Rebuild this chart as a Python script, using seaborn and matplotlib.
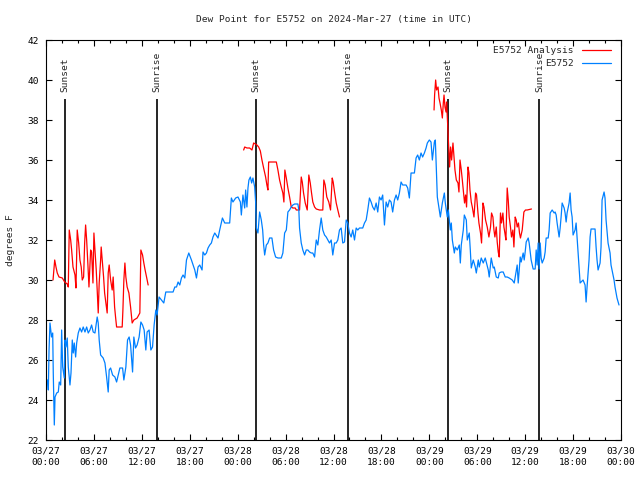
import numpy as np
import pandas as pd
import matplotlib
matplotlib.use("Agg")
import matplotlib.pyplot as plt
import matplotlib.dates as mdates
from matplotlib.lines import Line2D
import seaborn as sns

# hours after 2024-03-27 00:00 UTC, dew point in F
obs_hours = [0.19, 0.29, 0.38, 0.5, 0.69, 0.84, 0.91, 1.04, 1.13, 1.34, 1.54, 1.66, 1.84, 1.96, 2.09, 2.29, 2.38, 2.5, 2.66, 2.79,
             3.0, 3.13, 3.29, 3.41, 3.54, 3.71, 3.84, 4.04, 4.25, 4.46, 4.66, 4.88, 5.09, 5.29, 5.5, 5.71, 5.91, 6.13, 6.41, 6.54,
             6.66, 6.84, 7.16, 7.38, 7.59, 7.79, 7.91, 8.09, 8.34, 8.63, 8.84, 9.04, 9.25, 9.59, 9.75, 10.0, 10.21, 10.41, 10.59, 10.84,
             11.0, 11.21, 11.41, 11.66, 11.88, 12.09, 12.29, 12.5, 12.66, 12.91, 13.13, 13.34, 13.54, 13.75, 13.91, 14.16, 14.46, 14.75, 15.0, 15.91,
             16.13, 16.34, 16.54, 16.75, 16.96, 17.16, 17.38, 17.59, 17.88, 18.21, 18.63, 18.84, 19.04, 19.25, 19.54, 19.66, 19.88, 20.09, 20.29, 20.5,
             20.71, 20.91, 21.13, 21.54, 21.75, 22.09, 22.38, 23.0, 23.21, 23.41, 23.75, 24.04, 24.34, 24.46, 24.66, 24.88, 25.0, 25.16, 25.29, 25.41,
             25.59, 25.75, 25.91, 26.13, 26.25, 26.34, 26.54, 26.75, 26.96, 27.13, 27.25, 27.38, 27.59, 27.79, 28.0, 28.29, 28.5, 28.75, 29.04, 29.46,
             29.66, 29.88, 30.09, 30.29, 30.5, 30.71, 30.91, 31.13, 31.54, 31.66, 31.75, 31.96, 32.16, 32.38, 32.59, 32.79, 33.0, 33.21, 33.41, 33.63,
             33.84, 34.04, 34.25, 34.46, 34.66, 34.88, 35.09, 35.29, 35.5, 35.71, 35.91, 36.13, 36.34, 36.54, 36.75, 36.96, 37.16, 37.38, 37.59, 37.79,
             38.0, 38.21, 38.41, 38.63, 38.84, 39.04, 39.25, 39.66, 39.88, 40.09, 40.29, 40.5, 40.71, 40.91, 41.13, 41.34, 41.54, 41.75, 41.96, 42.16,
             42.38, 42.59, 42.79, 43.0, 43.21, 43.41, 43.63, 43.84, 44.04, 44.25, 44.46, 44.66, 45.09, 45.29, 45.5, 45.71, 46.13, 46.34, 46.54, 46.75,
             46.96, 47.16, 47.38, 47.59, 47.75, 48.0, 48.21, 48.38, 48.63, 48.75, 48.88, 49.0, 49.25, 49.38, 49.5, 49.63, 49.88, 50.0, 50.25, 50.38,
             50.5, 50.63, 50.75, 50.88, 51.13, 51.25, 51.5, 51.75, 51.88, 52.0, 52.25, 52.38, 52.63, 52.75, 53.0, 53.13, 53.25, 53.5, 53.75, 53.88,
             54.13, 54.25, 54.5, 54.75, 55.0, 55.13, 55.38, 55.5, 55.75, 56.0, 56.13, 56.38, 56.63, 56.75, 57.0, 57.25, 57.5, 57.75, 58.0, 58.38,
             58.63, 58.75, 59.0, 59.13, 59.38, 59.5, 59.75, 59.88, 60.0, 60.13, 60.38, 60.5, 60.63, 60.75, 61.0, 61.25, 61.38, 61.5, 61.63, 61.75,
             61.88, 62.0, 62.13, 62.38, 62.5, 62.63, 62.88, 63.0, 63.13, 63.38, 63.63, 63.75, 63.88, 64.0, 64.25, 64.38, 64.5, 64.63, 64.88, 65.0,
             65.13, 65.25, 65.5, 65.63, 65.75, 65.88, 66.0, 66.25, 66.38, 66.63, 66.88, 67.0, 67.25, 67.5, 67.63, 67.75, 68.0, 68.13, 68.25, 68.75,
             68.88, 69.0, 69.13, 69.38, 69.5, 69.63, 69.88, 70.0, 70.13, 70.38, 70.63, 70.75, 70.88, 71.13, 71.25, 71.38, 71.5, 71.75]
obs_dewpt = [25.0, 24.5, 26.5, 27.85, 27.15, 27.35, 25.35, 22.75, 24.15, 24.35, 24.4, 24.9, 24.75, 27.5, 25.65, 25.1, 27.0, 26.65, 27.1, 25.65,
             24.75, 25.35, 27.0, 26.35, 26.85, 26.15, 26.85, 27.35, 27.6, 27.4, 27.65, 27.4, 27.65, 27.35, 27.5, 27.75, 27.4, 27.35, 28.15, 27.85,
             27.0, 26.25, 26.1, 25.85, 25.15, 24.4, 25.5, 25.6, 25.25, 25.15, 24.9, 25.25, 25.6, 25.6, 25.0, 25.65, 27.0, 27.15, 26.75, 25.4,
             27.15, 26.6, 26.75, 27.15, 27.9, 27.75, 27.5, 26.5, 27.4, 27.5, 26.5, 26.65, 27.75, 28.5, 28.25, 29.15, 29.0, 28.85, 29.4, 29.4,
             29.65, 29.65, 29.9, 29.75, 30.1, 30.25, 30.1, 31.0, 31.35, 31.0, 30.5, 30.1, 30.65, 30.75, 30.5, 31.4, 31.25, 31.35, 31.6, 31.75,
             31.85, 32.15, 32.35, 32.1, 32.5, 33.1, 32.85, 32.85, 34.1, 33.9, 34.1, 34.15, 33.9, 33.25, 34.25, 33.6, 34.5, 33.65, 34.6, 35.0,
             35.15, 34.85, 35.1, 34.65, 33.9, 32.6, 32.35, 33.4, 33.0, 32.5, 31.75, 31.25, 31.75, 31.85, 32.1, 32.1, 31.5, 31.15, 31.1, 31.1,
             31.35, 32.35, 32.5, 33.4, 33.5, 33.65, 33.75, 33.8, 33.8, 33.5, 32.6, 31.85, 31.5, 31.25, 31.5, 31.5, 31.4, 31.35, 31.35, 31.15,
             32.0, 31.75, 32.5, 33.1, 32.5, 32.25, 32.15, 32.0, 31.85, 32.0, 31.25, 31.85, 31.85, 32.0, 32.5, 32.6, 31.85, 31.9, 33.0, 32.85,
             32.35, 32.15, 32.5, 32.0, 32.6, 32.5, 32.6, 32.6, 32.85, 33.0, 33.5, 34.1, 33.9, 33.65, 33.5, 33.85, 33.4, 34.15, 34.0, 34.25,
             32.75, 33.9, 33.65, 34.0, 33.9, 33.4, 34.0, 34.25, 34.0, 34.35, 34.9, 34.75, 34.75, 34.6, 34.1, 35.35, 35.35, 36.1, 36.25, 36.0,
             36.35, 36.15, 36.35, 36.6, 36.85, 37.0, 36.9, 36.0, 36.9, 37.0, 35.5, 34.15, 33.5, 33.15, 33.5, 33.85, 34.35, 33.85, 33.15, 33.5,
             33.0, 32.5, 32.85, 32.0, 31.35, 31.65, 31.5, 31.75, 30.85, 31.75, 32.5, 33.25, 33.0, 32.0, 32.35, 31.5, 30.6, 31.0, 30.65, 30.35,
             31.0, 30.65, 31.1, 30.85, 31.1, 30.9, 30.5, 30.15, 31.1, 30.6, 30.65, 30.15, 30.1, 30.35, 30.4, 30.4, 30.15, 30.15, 30.1, 30.0,
             29.85, 30.15, 30.75, 29.85, 31.15, 30.9, 31.35, 31.0, 31.4, 31.9, 32.1, 31.85, 31.4, 31.0, 30.55, 30.55, 31.5, 30.75, 31.85, 30.55,
             31.85, 31.1, 30.85, 31.1, 31.4, 32.1, 32.1, 32.5, 33.35, 33.5, 33.35, 33.4, 33.25, 32.85, 32.15, 32.6, 33.15, 33.85, 33.6, 33.35,
             32.9, 33.35, 33.85, 34.35, 33.5, 33.15, 32.25, 32.5, 32.85, 31.35, 29.85, 29.9, 30.0, 29.75, 28.9, 29.65, 31.0, 32.15, 32.55, 32.55,
             31.65, 31.0, 30.5, 30.85, 31.65, 34.0, 34.4, 34.1, 33.0, 31.85, 31.35, 30.75, 30.5, 30.0, 29.65, 29.35, 29.1, 28.75]

# analysis runs (three separate pieces)
ana_hours = [0.88, 1.09, 1.25, 1.41, 1.63, 2.04, 2.34, 2.66, 2.79, 2.91, 3.09, 3.21, 3.38, 3.63, 3.75, 3.91, 4.09, 4.25, 4.41, 4.54,
             4.71, 4.84, 4.96, 5.09, 5.25, 5.38, 5.59, 5.71, 5.88, 6.0, 6.13, 6.29, 6.41, 6.54, 6.66, 6.84, 6.91, 7.04, 7.21, 7.34,
             7.5, 7.66, 7.79, 7.91, 8.09, 8.29, 8.41, 8.59, 8.71, 8.84, 9.54, 9.63, 9.75, 9.88, 10.0, 10.16, 10.38, 10.59, 10.79, 11.0,
             11.41, 11.75, 11.88, 12.09, 12.25, 12.41, 12.59, 12.79,
             24.75, 24.88, 25.16, 25.5, 25.79, 26.0, 26.21, 26.41, 26.63, 26.84, 27.04, 27.25, 27.5, 27.66, 27.79, 27.88, 28.21, 28.84, 29.04, 29.25,
             29.46, 29.66, 29.79, 29.91, 30.09, 30.29, 30.5, 30.71, 30.91, 31.21, 31.34, 31.75, 31.96, 32.09, 32.25, 32.46, 32.71, 32.91, 33.09, 33.25,
             33.41, 33.63, 33.84, 34.25, 34.66, 34.79, 34.96, 35.16, 35.41, 35.63, 35.84, 35.96, 36.13, 36.34, 36.54, 36.75,
             48.59, 48.66, 48.79, 48.91, 49.09, 49.21, 49.34, 49.5, 49.63, 49.75, 49.84, 49.96, 50.09, 50.16, 50.34, 50.46, 50.54, 50.66, 50.79, 50.96,
             51.09, 51.21, 51.38, 51.59, 51.71, 51.84, 52.0, 52.13, 52.25, 52.41, 52.54, 52.66, 52.84, 52.96, 53.09, 53.25, 53.38, 53.59, 53.79, 53.91,
             54.09, 54.21, 54.41, 54.54, 54.71, 54.84, 55.04, 55.25, 55.46, 55.66, 55.79, 55.96, 56.09, 56.21, 56.38, 56.5, 56.63, 56.75, 56.91, 57.04,
             57.21, 57.34, 57.46, 57.59, 57.75, 57.88, 58.0, 58.16, 58.29, 58.46, 58.59, 58.75, 58.88, 59.0, 59.16, 59.29, 59.41, 59.63, 59.84, 60.04,
             60.25, 60.79]
ana_dewpt = [30.0, 31.0, 30.65, 30.35, 30.15, 30.1, 29.9, 29.8, 29.65, 32.5, 32.0, 31.5, 30.65, 30.25, 29.6, 32.5, 31.85, 31.0, 30.65, 30.0,
             30.15, 31.85, 32.75, 32.0, 30.75, 29.65, 31.5, 31.4, 29.85, 32.35, 31.5, 30.5, 29.5, 28.35, 29.85, 31.0, 31.65, 31.0, 30.15, 29.35,
             28.85, 28.35, 30.35, 30.75, 30.0, 29.5, 30.15, 28.65, 28.15, 27.65, 27.65, 28.5, 30.0, 30.85, 30.15, 29.65, 29.35, 28.65, 27.85, 28.0,
             28.1, 28.35, 31.5, 31.25, 30.85, 30.5, 30.15, 29.75,
             36.5, 36.65, 36.6, 36.6, 36.5, 36.85, 36.8, 36.75, 36.65, 36.45, 36.0, 35.6, 35.15, 34.75, 34.5, 35.9, 35.9, 35.9, 35.5, 35.0,
             34.65, 34.35, 33.9, 35.5, 35.1, 34.6, 34.15, 33.65, 33.6, 33.6, 33.5, 33.5, 35.15, 34.9, 34.35, 33.85, 33.5, 35.25, 34.85, 34.35,
             33.9, 33.65, 33.55, 33.5, 33.5, 35.0, 34.75, 34.15, 33.9, 33.5, 35.1, 34.9, 34.4, 33.85, 33.5, 33.15,
             38.5, 39.25, 40.0, 39.5, 39.65, 39.1, 38.85, 38.5, 38.1, 38.85, 39.25, 38.65, 38.4, 38.9, 37.4, 36.35, 35.65, 36.65, 36.0, 36.85,
             36.15, 35.5, 35.0, 34.85, 34.4, 36.0, 35.5, 35.0, 34.5, 33.85, 34.25, 33.65, 35.65, 35.35, 34.5, 33.9, 33.65, 33.15, 34.35, 34.25,
             33.35, 32.85, 32.35, 31.85, 33.85, 33.65, 33.0, 32.65, 32.15, 32.65, 33.35, 33.15, 32.5, 32.15, 32.65, 31.9, 31.4, 31.15, 33.35, 32.85,
             33.35, 32.65, 32.35, 32.0, 34.6, 34.0, 33.15, 32.65, 32.15, 32.5, 31.65, 33.15, 33.0, 32.65, 32.85, 32.35, 32.1, 32.5, 33.4, 33.5,
             33.5, 33.55]
ana_run = [1] * 68 + [2] * 56 + [3] * 82

sun_hours = [2.41, 13.91, 26.25, 37.79, 50.29, 61.79]
sun_names = ["Sunset", "Sunrise", "Sunset", "Sunrise", "Sunset", "Sunrise"]

start = pd.Timestamp("2024-03-27 00:00")
obs = pd.DataFrame({"time": start + pd.to_timedelta(obs_hours, unit="h"), "dewpt": obs_dewpt})
ana = pd.DataFrame({"time": start + pd.to_timedelta(ana_hours, unit="h"), "dewpt": ana_dewpt, "run": ana_run})
sun_times = start + pd.to_timedelta(sun_hours, unit="h")

sns.set_style("ticks")
plt.rcParams["font.family"] = ["DejaVu Sans Mono"]
fs = 6.8
plt.rcParams["font.size"] = fs

red = "#ff0000"
blue = "#0080ff"

fig = plt.figure(figsize=(6.4, 4.8), dpi=100)
ax = fig.add_axes([46 / 640, 40 / 480, 575 / 640, 400 / 480])

ax.vlines(sun_times, 22, 39.05, color="black", lw=1.2, zorder=1)
for t, name in zip(sun_times, sun_names):
    ax.text(t, 39.4, name, rotation=90, ha="center", va="bottom", fontsize=fs)

sns.lineplot(data=ana, x="time", y="dewpt", units="run", estimator=None,
             color=red, lw=0.9, ax=ax, zorder=2)
sns.lineplot(data=obs, x="time", y="dewpt", estimator=None,
             color=blue, lw=0.9, ax=ax, zorder=3)

ax.set_xlim(start, start + pd.Timedelta(hours=72))
ax.set_ylim(22, 42)
ax.set_yticks(np.arange(22, 43, 2))
ax.xaxis.set_major_locator(mdates.HourLocator(byhour=[0, 6, 12, 18]))
ax.xaxis.set_minor_locator(mdates.HourLocator(interval=2))
ax.xaxis.set_major_formatter(mdates.DateFormatter("%m/%d\n%H:%M"))
ax.tick_params(axis="both", which="both", direction="in", top=True, right=True,
               color="black", labelsize=fs, labelcolor="black")
ax.tick_params(axis="both", which="major", length=4.5, width=0.8)
ax.tick_params(axis="x", which="minor", length=2.5, width=0.8)
ax.tick_params(axis="x", which="major", pad=5)
ax.tick_params(axis="y", which="major", pad=5)
plt.setp(ax.get_xticklabels(), linespacing=1.3)
for s in ax.spines.values():
    s.set_visible(True)
    s.set_color("black")
    s.set_linewidth(0.8)

ax.set_xlabel("")
ax.set_ylabel("degrees F", fontsize=fs, labelpad=9)
ax.set_title("Dew Point for E5752 on 2024-Mar-27 (time in UTC)", fontsize=fs, pad=13)

handles = [Line2D([], [], color=red, lw=0.9), Line2D([], [], color=blue, lw=0.9)]
ax.legend(handles, ["E5752 Analysis", "E5752"], loc="upper right", bbox_to_anchor=(0.982, 0.985),
          frameon=False, markerfirst=False, handlelength=3.0, handletextpad=0.9,
          labelspacing=0.42, borderpad=0, borderaxespad=0, fontsize=fs)

fig.savefig("out.png", dpi=100, facecolor="white")
